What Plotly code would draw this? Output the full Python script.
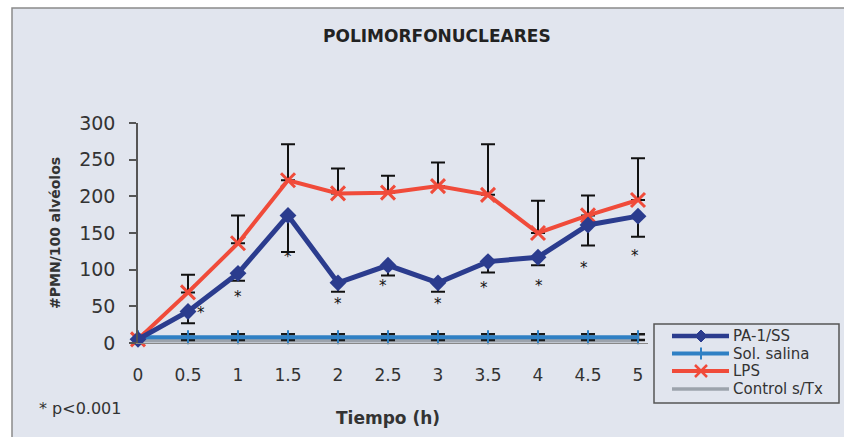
import plotly.graph_objects as go

# ---- data ----
tiempo = [0, 0.5, 1, 1.5, 2, 2.5, 3, 3.5, 4, 4.5, 5]
x_ticks = [0, 0.5, 1, 1.5, 2, 2.5, 3, 3.5, 4, 4.5, 5]
x_tick_labels = ["0", "0.5", "1", "1.5", "2", "2.5", "3", "3.5", "4", "4.5", "5"]
y_ticks = [0, 50, 100, 150, 200, 250, 300]

pa1 = [5, 43, 95, 174, 82, 106, 82, 111, 117, 161, 173]
pa1_err = [0, 16, 10, 50, 12, 14, 12, 15, 11, 28, 28]
lps = [5, 69, 136, 222, 204, 205, 214, 202, 150, 174, 195]
lps_err = [0, 24, 38, 49, 34, 23, 32, 69, 44, 27, 57]
salina = [8, 8, 8, 8, 8, 8, 8, 8, 8, 8, 8]
salina_err = [0, 4, 4, 4, 4, 4, 4, 4, 4, 4, 4]
control = [3, 3, 3, 3, 3, 3, 3, 3, 3, 3, 3]

sig_x = [0.63, 1.0, 1.5, 2.0, 2.45, 3.0, 3.46, 4.01, 4.46, 4.97]
sig_y = [48, 70, 124, 60, 84, 60, 82, 85, 109, 125]

legend_names = ["PA-1/SS", "Sol. salina", "LPS", "Control s/Tx"]

# ---- style ----
BG = "#E1E5EE"
NAVY = "#2B3C8E"
LBLUE = "#2F80C4"
RED = "#F04B3A"
GRAY = "#9CA3AC"
TXT = "#333333"

L, R, T, B = 138, 196, 123, 94
W, H = 844, 437
PW, PH = W - L - R, H - T - B


def px(xp):
    return (xp - L) / PW


def py(yp):
    return (H - B - yp) / PH


fig = go.Figure()

fig.add_trace(go.Scatter(
    x=tiempo, y=control, name=legend_names[3], mode="lines",
    line=dict(color=GRAY, width=3.5), cliponaxis=False))
fig.add_trace(go.Scatter(
    x=tiempo, y=salina, name=legend_names[1], mode="lines+markers",
    line=dict(color=LBLUE, width=4),
    marker=dict(symbol="line-ns", size=10, line=dict(color=LBLUE, width=2)),
    error_y=dict(type="data", array=salina_err, symmetric=True,
                 color="#1a1a1a", thickness=2.5, width=7),
    cliponaxis=False))
fig.add_trace(go.Scatter(
    x=tiempo, y=lps, name=legend_names[2], mode="lines+markers",
    line=dict(color=RED, width=4),
    marker=dict(symbol="x-thin", size=14, color=RED, line=dict(color=RED, width=3)),
    error_y=dict(type="data", array=lps_err, arrayminus=[0] * len(lps_err),
                 color="#111111", thickness=2, width=7),
    cliponaxis=False))
fig.add_trace(go.Scatter(
    x=tiempo, y=pa1, name=legend_names[0], mode="lines+markers",
    line=dict(color=NAVY, width=5),
    marker=dict(symbol="diamond", size=13, color=NAVY),
    error_y=dict(type="data", array=[0] * len(pa1_err), arrayminus=pa1_err,
                 color="#111111", thickness=2, width=7),
    cliponaxis=False))

annotations = []
for sx, sy in zip(sig_x, sig_y):
    annotations.append(dict(x=sx, y=sy, xref="x", yref="y", text="*",
                            showarrow=False, yshift=-5,
                            font=dict(family="DejaVu Sans", size=15, color="#111111")))

annotations += [
    dict(x=px(437), y=py(36), xref="paper", yref="paper", text="<b>POLIMORFONUCLEARES</b>",
         xanchor="center", yanchor="middle", showarrow=False,
         font=dict(family="DejaVu Sans", size=17, color="#222222")),
    dict(x=px(55), y=0.5, xref="paper", yref="paper", text="<b>#PMN/100 alvéolos</b>",
         xanchor="center", yanchor="middle", textangle=-90, showarrow=False,
         font=dict(family="DejaVu Sans", size=14, color=TXT)),
    dict(x=px(388), y=py(418), xref="paper", yref="paper", text="<b>Tiempo (h)</b>",
         xanchor="center", yanchor="middle", showarrow=False,
         font=dict(family="DejaVu Sans", size=17, color=TXT)),
    dict(x=px(37), y=py(408), xref="paper", yref="paper", text="* p<0.001",
         xanchor="left", yanchor="middle", showarrow=False,
         font=dict(family="DejaVu Sans", size=16, color=TXT)),
]

shapes = [dict(type="rect", xref="paper", yref="paper",
               x0=px(12), x1=px(850), y0=py(445), y1=py(8),
               fillcolor=BG, line=dict(color="#8a8a8a", width=1.5), layer="below")]

# ---- hand-drawn legend (box, samples, labels) ----
shapes.append(dict(type="rect", xref="paper", yref="paper",
                   x0=px(654), x1=px(839), y0=py(403), y1=py(324),
                   fillcolor=BG, line=dict(color="#555555", width=1.5)))
leg_rows = [336, 353.5, 371, 389]
leg_colors = [NAVY, LBLUE, RED, GRAY]
leg_widths = [4.5, 4, 4, 3.5]
for name, ry, col, lw in zip(legend_names, leg_rows, leg_colors, leg_widths):
    shapes.append(dict(type="line", xref="paper", yref="paper",
                       x0=px(672), x1=px(729), y0=py(ry), y1=py(ry),
                       line=dict(color=col, width=lw)))
    annotations.append(dict(x=px(731), y=py(ry), xref="paper", yref="paper", text=name,
                            xanchor="left", yanchor="middle", showarrow=False,
                            font=dict(family="DejaVu Sans", size=15, color=TXT)))
mx = 701
# diamond marker for PA-1/SS
r0 = leg_rows[0]
shapes.append(dict(type="path", xref="paper", yref="paper",
                   path=f"M {px(mx-6)},{py(r0)} L {px(mx)},{py(r0-6)} L {px(mx+6)},{py(r0)} "
                        f"L {px(mx)},{py(r0+6)} Z",
                   fillcolor=NAVY, line=dict(color=NAVY, width=1)))
# vertical tick for Sol. salina
r1 = leg_rows[1]
shapes.append(dict(type="line", xref="paper", yref="paper",
                   x0=px(mx), x1=px(mx), y0=py(r1 - 6), y1=py(r1 + 6),
                   line=dict(color=LBLUE, width=2)))
# X for LPS
r2 = leg_rows[2]
for d in (1, -1):
    shapes.append(dict(type="line", xref="paper", yref="paper",
                       x0=px(mx - 6), x1=px(mx + 6), y0=py(r2 - 6 * d), y1=py(r2 + 6 * d),
                       line=dict(color=RED, width=2.5)))

fig.update_layout(
    width=W, height=H,
    margin=dict(l=L, r=R, t=T, b=B),
    paper_bgcolor="white", plot_bgcolor="rgba(0,0,0,0)",
    showlegend=False,
    xaxis=dict(range=[0, 5.1], tickvals=x_ticks, ticktext=x_tick_labels,
               showgrid=False, zeroline=False, showline=True,
               linecolor="#888888", linewidth=1,
               ticks="outside", ticklen=17, tickcolor="rgba(0,0,0,0)",
               tickfont=dict(family="DejaVu Sans", size=17, color=TXT)),
    yaxis=dict(range=[0, 300], tickvals=y_ticks, showgrid=False, zeroline=False,
               showline=True, linecolor="#555555", linewidth=1.5,
               ticks="outside", ticklen=7, tickwidth=1.5, tickcolor="#555555",
               ticklabelstandoff=10,
               tickfont=dict(family="DejaVu Sans", size=19, color=TXT)),
    yaxis2=dict(range=[0, 300], tickvals=y_ticks, overlaying="y", anchor="x", side="left",
                showgrid=False, zeroline=False, showline=False, showticklabels=False,
                ticks="inside", ticklen=7, tickwidth=1.5, tickcolor="#555555"),
    annotations=annotations,
    shapes=shapes,
)

fig.write_html("out.html", config={"displayModeBar": False},
               post_script="document.body.style.margin='0';document.body.style.padding='0';")
